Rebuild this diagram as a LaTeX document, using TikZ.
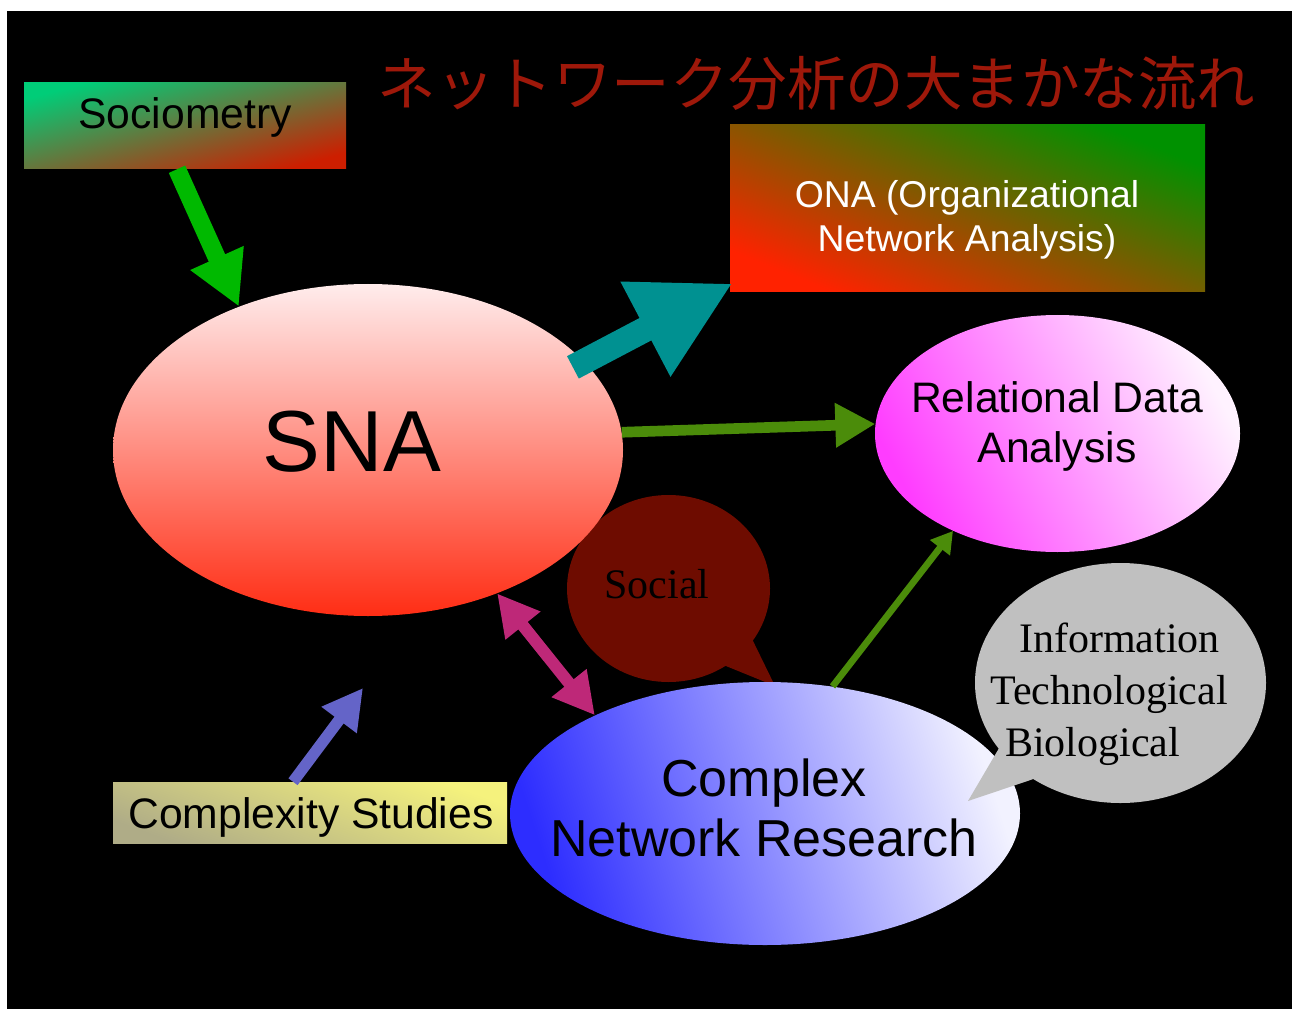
\documentclass[tikz,border=0pt]{standalone}
\usepackage{fontspec}
\setmainfont{Liberation Serif}
\setsansfont{Liberation Sans}
\newfontfamily\cjkfont{Noto Sans CJK JP}
\usetikzlibrary{shapes.geometric,shapes.callouts,arrows.meta,calc}

\definecolor{titlered}{RGB}{158,24,10}
\definecolor{sociogreenA}{RGB}{0,205,120}
\definecolor{socioredA}{RGB}{205,30,0}
\definecolor{onagreen}{RGB}{0,145,0}
\definecolor{onared}{RGB}{255,34,0}
\definecolor{snatop}{RGB}{255,236,236}
\definecolor{snabot}{RGB}{255,45,20}
\definecolor{relmag}{RGB}{255,60,255}
\definecolor{relwhite}{RGB}{255,242,255}
\definecolor{cnrblue}{RGB}{45,45,255}
\definecolor{cnrwhite}{RGB}{242,242,255}
\definecolor{csyellow}{RGB}{245,242,125}
\definecolor{csgrey}{RGB}{175,172,135}
\definecolor{socialred}{RGB}{110,12,0}
\definecolor{infogrey}{RGB}{192,192,192}
\definecolor{arrgreen}{RGB}{0,185,0}
\definecolor{arrteal}{RGB}{0,145,145}
\definecolor{arrolive}{RGB}{75,140,10}
\definecolor{arrmag}{RGB}{190,40,120}
\definecolor{arrblue}{RGB}{100,100,200}

\newcommand\setfs[2]{\fontsize{#1}{#2}\selectfont}

\begin{document}
\begin{tikzpicture}[x=0.75pt,y=-0.75pt,
  box/.style={rectangle, inner sep=0pt, draw=none},
  oval/.style={ellipse, inner sep=0pt, draw=none},
  bubble/.style={ellipse callout, inner sep=0pt, draw=none},
  txt/.style={inner sep=0pt, align=center}
]
\useasboundingbox (0,0) rectangle (1292,1009);
\fill[white] (0,0) rectangle (1292,1009);
\fill[black] (7,11) rectangle (1292,1009);

% title
\node[txt, anchor=base, text=titlered, font=\cjkfont\setfs{43.9}{50}] (title) at (816.5,106) {ネットワーク分析の大まかな流れ};

% speech bubble "Social"
\node[bubble, fill=socialred, minimum width=152.25pt, minimum height=140.25pt,
      callout absolute pointer={(775,686)}, callout pointer arc=22] (social) at (668.5,588.5) {};
\node[txt, font=\rmfamily\setfs{31.5}{38}] (socialT) at (657,584) {Social};

% SNA
\node[oval, minimum width=382.5pt, minimum height=249pt, top color=snatop, bottom color=snabot] (sna) at (368,450) {};
\node[txt, font=\sffamily\setfs{65}{78}] (snaT) at (352,442) {SNA};

% Complex Network Research
\node[oval, minimum width=382.5pt, minimum height=197.25pt, top color=cnrwhite, bottom color=cnrblue, shading angle=-72] (cnr) at (765,813.5) {};
\node[txt, font=\sffamily\setfs{39}{45}] (cnrT) at (764,808) {Complex\\Network Research};

% Info bubble
\node[bubble, fill=infogrey, minimum width=218.25pt, minimum height=180pt,
      callout absolute pointer={(968,801)}, callout pointer arc=20] (info) at (1120.5,683) {};
\node[txt, anchor=base, font=\rmfamily\setfs{31.5}{39}] (infoA) at (1119.5,652) {Information};
\node[txt, anchor=base, font=\rmfamily\setfs{31.5}{39}] (infoB) at (1109,704) {Technological};
\node[txt, anchor=base, font=\rmfamily\setfs{31.5}{39}] (infoC) at (1092.5,756) {Biological};

% Relational Data Analysis
\node[oval, minimum width=273.75pt, minimum height=177.75pt, top color=relwhite, bottom color=relmag, shading angle=-62] (rel) at (1057.5,433.5) {};
\node[txt, font=\sffamily\setfs{32}{37.5}] (relT) at (1057,426) {Relational Data\\Analysis};

% ONA box
\node[box, minimum width=356.25pt, minimum height=125.25pt, top color=onagreen, bottom color=onared, shading angle=-22] (ona) at (967.5,208.5) {};
\node[txt, text=white, font=\sffamily\setfs{28}{33}] (onaT) at (967,220) {ONA (Organizational\\Network Analysis)};

% Sociometry box
\node[box, minimum width=241.5pt, minimum height=64.5pt, top color=sociogreenA, bottom color=socioredA, shading angle=15] (socio) at (185,126) {};
\node[txt, font=\sffamily\setfs{32}{38}] (socioT) at (185,117) {Sociometry};

% Complexity Studies box
\node[box, minimum width=295.5pt, minimum height=45.75pt, top color=csyellow, bottom color=csgrey, shading angle=-20] (cs) at (310,812.5) {};
\node[txt, font=\sffamily\setfs{32}{38}] (csT) at (311,817) {Complexity Studies};
\coordinate (csend) at (363,688);

% arrows
\draw[line width=13.5pt, arrgreen, -{Triangle[length=40pt,width=41pt]}] ($(socio.south)+(-8,0)$) -- (sna.132);
\draw[line width=19pt, arrteal, -{Triangle[length=74pt,width=75pt]}] ($(sna.22)+(-12,5)$) -- ($(ona.south west)+(3,-9)$);
\draw[line width=8pt, arrolive, -{Triangle[length=30pt,width=31.5pt]}] (sna.4) -- (rel.177);
\draw[line width=5pt, arrolive, -{Triangle[length=16pt,width=18pt]}] (cnr.62) -- (rel.223);
\draw[line width=9pt, arrmag, {Triangle[length=31pt,width=31.5pt]}-{Triangle[length=31pt,width=31.5pt]}] (sna.312) -- (cnr.150);
\draw[line width=8.5pt, arrblue, -{Triangle[length=30pt,width=31pt]}] ($(cs.north)+(-17,0)$) -- (csend);
\end{tikzpicture}
\end{document}
